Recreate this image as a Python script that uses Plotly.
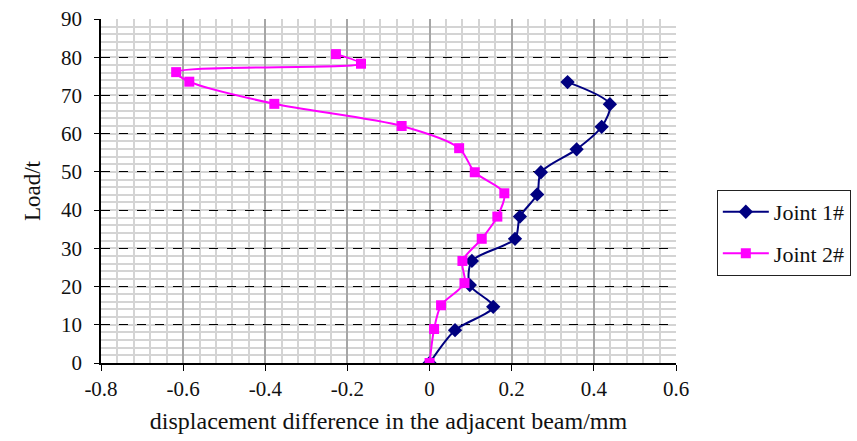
import plotly.graph_objects as go

# Joint 1# (navy diamonds)
j1_x = [0.0, 0.062, 0.155, 0.098, 0.103, 0.208, 0.220, 0.262, 0.271, 0.358, 0.419, 0.439, 0.336]
j1_y = [0.0, 8.6, 14.7, 20.4, 26.7, 32.5, 38.3, 44.1, 49.9, 55.9, 61.8, 67.7, 73.5]

# Joint 2# (magenta squares)
j2_x = [0.0, 0.011, 0.028, 0.085, 0.080, 0.127, 0.165, 0.182, 0.110, 0.072,
        -0.068, -0.378, -0.585, -0.617, -0.167, -0.228]
j2_y = [0.0, 8.9, 15.1, 20.9, 26.7, 32.5, 38.3, 44.4, 49.9, 56.2,
        62.0, 67.8, 73.6, 76.1, 78.3, 80.8]

series_names = ["Joint 1#", "Joint 2#"]
x_title = "displacement difference in the adjacent beam/mm"
y_title = "Load/t"
x_tickvals = [-0.8, -0.6, -0.4, -0.2, 0, 0.2, 0.4, 0.6]
x_ticktext = ["-0.8", "-0.6", "-0.4", "-0.2", "0", "0.2", "0.4", "0.6"]
y_tickvals = [0, 10, 20, 30, 40, 50, 60, 70, 80, 90]

font_family = "'Liberation Serif', 'DejaVu Serif', serif"

fig = go.Figure()
fig.add_trace(go.Scatter(
    x=j1_x, y=j1_y, name=series_names[0], mode="lines+markers",
    line=dict(color="#000080", width=2, shape="spline", smoothing=0.8),
    marker=dict(symbol="diamond", size=11, color="#000080"),
    legendgroup="a",
))
fig.add_trace(go.Scatter(
    x=j2_x, y=j2_y, name=series_names[1], mode="lines+markers",
    line=dict(color="#FF00FF", width=2, shape="spline", smoothing=0.8),
    marker=dict(symbol="square", size=10, color="#FF00FF"),
    legendgroup="b",
))

fig.update_layout(
    width=857, height=441,
    margin=dict(l=101, r=181, t=19, b=78, autoexpand=False),
    paper_bgcolor="white", plot_bgcolor="white",
    font=dict(family=font_family, size=21, color="#111"),
    showlegend=True,
    legend=dict(
        x=1.071, y=0.503, xanchor="left", yanchor="top",
        bordercolor="#222", borderwidth=1, bgcolor="white",
        font=dict(family=font_family, size=22, color="#111"),
        tracegroupgap=10, traceorder="grouped", itemwidth=46,
    ),
)

fig.update_xaxes(
    range=[-0.8, 0.6], tickmode="array", tickvals=x_tickvals, ticktext=x_ticktext,
    showgrid=True, gridcolor="#a6a6a6", gridwidth=1.5,
    minor=dict(dtick=0.04, tick0=-0.8, showgrid=True, gridcolor="#d4d4d4",
               gridwidth=1.5, griddash="solid"),
    zeroline=False, showline=True, linecolor="black", linewidth=1.5,
    ticks="outside", ticklen=6, tickcolor="black", tickwidth=1,
    title=dict(text=x_title, font=dict(size=24, family=font_family), standoff=12),
    tickfont=dict(size=21, family=font_family),
    automargin=False,
)
fig.update_yaxes(
    range=[0, 90], tickmode="array", tickvals=y_tickvals,
    showgrid=True, gridcolor="black", gridwidth=1, griddash="dash",
    minor=dict(dtick=2, tick0=0, showgrid=True, gridcolor="#d4d4d4",
               gridwidth=1.5, griddash="solid"),
    zeroline=False, showline=True, linecolor="black", linewidth=1.5,
    ticks="outside", ticklen=5, tickcolor="black", tickwidth=1,
    ticklabelstandoff=8,
    title=dict(text=y_title, font=dict(size=23, family=font_family), standoff=14),
    tickfont=dict(size=21, family=font_family),
    automargin=False,
)

fig.write_html("out.html")
